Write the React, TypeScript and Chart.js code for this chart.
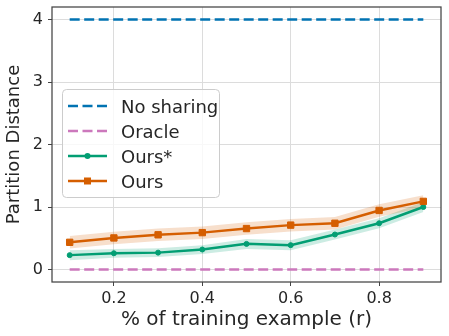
import React, { useEffect, useRef } from "react";
import { Chart, registerables } from "chart.js";

Chart.register(...registerables);

// ---- data ----
const rValues = [0.1, 0.2, 0.3, 0.4, 0.5, 0.6, 0.7, 0.8, 0.9];
const noSharing = [4, 4, 4, 4, 4, 4, 4, 4, 4];
const oracle = [0, 0, 0, 0, 0, 0, 0, 0, 0];
const oursStar = [0.23, 0.26, 0.27, 0.32, 0.41, 0.39, 0.56, 0.74, 1.0];
const oursStarStd = [0.08, 0.07, 0.07, 0.07, 0.08, 0.08, 0.08, 0.08, 0.08];
const ours = [0.435, 0.505, 0.555, 0.59, 0.655, 0.71, 0.74, 0.945, 1.09];
const oursStd = [0.1, 0.1, 0.1, 0.1, 0.1, 0.1, 0.1, 0.1, 0.1];
const xTicks = [0.2, 0.4, 0.6, 0.8];
const yTicks = [0, 1, 2, 3, 4];
const labels = ["No sharing", "Oracle", "Ours*", "Ours"];
const xTitle = "% of training example (r)";
const yTitle = "Partition Distance";

const BLUE = "#0173B2";
const PINK = "#CC78BC";
const GREEN = "#029E73";
const ORANGE = "#D55E00";
const TEXT = "#262626";
const FONT = "'DejaVu Sans'";
const DASH = [10, 4.5];

const pts = (ys: number[]) => rValues.map((x, i) => ({ x, y: ys[i] }));
const ptsOff = (ys: number[], sd: number[], s: number) =>
  rValues.map((x, i) => ({ x, y: ys[i] + s * sd[i] }));

type LegendEntry = { label: string; color: string; dash: number[]; marker: string | null };
const legendEntries: LegendEntry[] = [
  { label: labels[0], color: BLUE, dash: DASH, marker: null },
  { label: labels[1], color: PINK, dash: DASH, marker: null },
  { label: labels[2], color: GREEN, dash: [], marker: "circle" },
  { label: labels[3], color: ORANGE, dash: [], marker: "rect" },
];

const framePlugin = {
  id: "frame",
  afterDraw(chart: any) {
    const { ctx, chartArea } = chart;
    const { left, top, right, bottom } = chartArea;
    ctx.save();
    ctx.strokeStyle = "#444444";
    ctx.lineWidth = 1.25;
    ctx.strokeRect(left, top, right - left, bottom - top);

    // legend
    const bx = left + 10;
    const by = top + 82;
    const bw = 157;
    const bh = 108;
    ctx.beginPath();
    (ctx as any).roundRect(bx + 0.5, by + 0.5, bw, bh, 4);
    ctx.fillStyle = "rgba(255,255,255,0.8)";
    ctx.fill();
    ctx.strokeStyle = "#cccccc";
    ctx.lineWidth = 1;
    ctx.stroke();

    legendEntries.forEach((e, i) => {
      const yc = by + 17 + 25 * i;
      ctx.save();
      ctx.strokeStyle = e.color;
      ctx.lineWidth = 2.5;
      ctx.lineCap = "butt";
      ctx.setLineDash(e.dash);
      ctx.beginPath();
      ctx.moveTo(bx + 6, yc);
      ctx.lineTo(bx + 45, yc);
      ctx.stroke();
      ctx.restore();
      const mx = bx + 25.5;
      if (e.marker === "circle") {
        ctx.fillStyle = e.color;
        ctx.beginPath();
        ctx.arc(mx, yc, 3, 0, Math.PI * 2);
        ctx.fill();
      } else if (e.marker === "rect") {
        ctx.fillStyle = e.color;
        ctx.fillRect(mx - 3.5, yc - 3.5, 7, 7);
      }
      ctx.fillStyle = TEXT;
      ctx.font = `18px ${FONT}`;
      ctx.textAlign = "left";
      ctx.textBaseline = "alphabetic";
      ctx.fillText(e.label, bx + 59, yc + 6.5);
    });
    ctx.restore();
  },
};

export default function App() {
  const canvasRef = useRef<HTMLCanvasElement | null>(null);

  useEffect(() => {
    const canvas = canvasRef.current;
    if (!canvas) return;
    const chart = new Chart(canvas, {
      type: "line",
      data: {
        datasets: [
          {
            label: labels[0],
            data: pts(noSharing),
            borderColor: BLUE,
            borderWidth: 2.5,
            borderDash: DASH,
            borderCapStyle: "butt",
            pointRadius: 0,
            fill: false,
            order: 4,
          },
          {
            label: labels[1],
            data: pts(oracle),
            borderColor: PINK,
            borderWidth: 2.5,
            borderDash: DASH,
            borderCapStyle: "butt",
            pointRadius: 0,
            fill: false,
            order: 3,
          },
          {
            label: labels[2],
            data: pts(oursStar),
            borderColor: GREEN,
            backgroundColor: GREEN,
            borderWidth: 2.5,
            pointStyle: "circle",
            pointRadius: 2.5,
            pointBorderWidth: 1,
            pointBackgroundColor: GREEN,
            pointBorderColor: GREEN,
            fill: false,
            order: 2,
          },
          {
            label: labels[3],
            data: pts(ours),
            borderColor: ORANGE,
            backgroundColor: ORANGE,
            borderWidth: 2.5,
            pointStyle: "rect",
            pointRadius: 4.5,
            pointBorderWidth: 1,
            pointBackgroundColor: ORANGE,
            pointBorderColor: ORANGE,
            fill: false,
            order: 1,
          },
          {
            label: "ours*-upper",
            data: ptsOff(oursStar, oursStarStd, 1),
            borderWidth: 0,
            pointRadius: 0,
            backgroundColor: "rgba(2,158,115,0.2)",
            fill: "+1",
            order: 11,
          },
          {
            label: "ours*-lower",
            data: ptsOff(oursStar, oursStarStd, -1),
            borderWidth: 0,
            pointRadius: 0,
            fill: false,
            order: 11,
          },
          {
            label: "ours-upper",
            data: ptsOff(ours, oursStd, 1),
            borderWidth: 0,
            pointRadius: 0,
            backgroundColor: "rgba(213,94,0,0.2)",
            fill: "+1",
            order: 10,
          },
          {
            label: "ours-lower",
            data: ptsOff(ours, oursStd, -1),
            borderWidth: 0,
            pointRadius: 0,
            fill: false,
            order: 10,
          },
        ],
      },
      options: {
        responsive: false,
        animation: false,
        devicePixelRatio: 1,
        events: [],
        layout: { padding: { left: 0, right: 8, top: 7, bottom: 0 } },
        plugins: {
          legend: { display: false },
          tooltip: { enabled: false },
        },
        scales: {
          x: {
            type: "linear",
            min: 0.06,
            max: 0.94,
            afterBuildTicks: (s: any) => {
              s.ticks = xTicks.map((v) => ({ value: v }));
            },
            afterFit: (s: any) => {
              s.height = 54;
              s.paddingLeft = 0;
              s.paddingRight = 0;
            },
            ticks: {
              autoSkip: false,
              maxRotation: 0,
              padding: 3,
              color: TEXT,
              font: { family: FONT, size: 16 },
              callback: (v: any) => Number(v).toFixed(1),
            },
            grid: {
              color: "#dcdcdc",
              lineWidth: 1,
              tickLength: 4,
              tickColor: "#444444",
              drawTicks: true,
            },
            border: { display: false },
            title: {
              display: true,
              text: xTitle,
              color: TEXT,
              font: { family: FONT, size: 20 },
              padding: { top: 0, bottom: 4 },
            },
          },
          y: {
            type: "linear",
            min: -0.2,
            max: 4.2,
            afterBuildTicks: (s: any) => {
              s.ticks = yTicks.map((v) => ({ value: v }));
            },
            afterFit: (s: any) => {
              s.width = 52;
              s.paddingTop = 0;
              s.paddingBottom = 0;
            },
            ticks: {
              padding: 5,
              color: TEXT,
              font: { family: FONT, size: 16 },
              callback: (v: any) => String(v),
            },
            grid: {
              color: "#dcdcdc",
              lineWidth: 1,
              tickLength: 4,
              tickColor: "#444444",
              drawTicks: true,
            },
            border: { display: false },
            title: {
              display: true,
              text: yTitle,
              color: TEXT,
              font: { family: FONT, size: 18 },
              padding: { top: 4, bottom: 0 },
            },
          },
        },
      },
      plugins: [framePlugin],
    } as any);
    return () => chart.destroy();
  }, []);

  return (
    <div style={{ position: "absolute", left: 0, top: 0, width: 449, height: 336, background: "#fff" }}>
      <canvas ref={canvasRef} width={449} height={336} style={{ width: 449, height: 336 }} />
    </div>
  );
}
